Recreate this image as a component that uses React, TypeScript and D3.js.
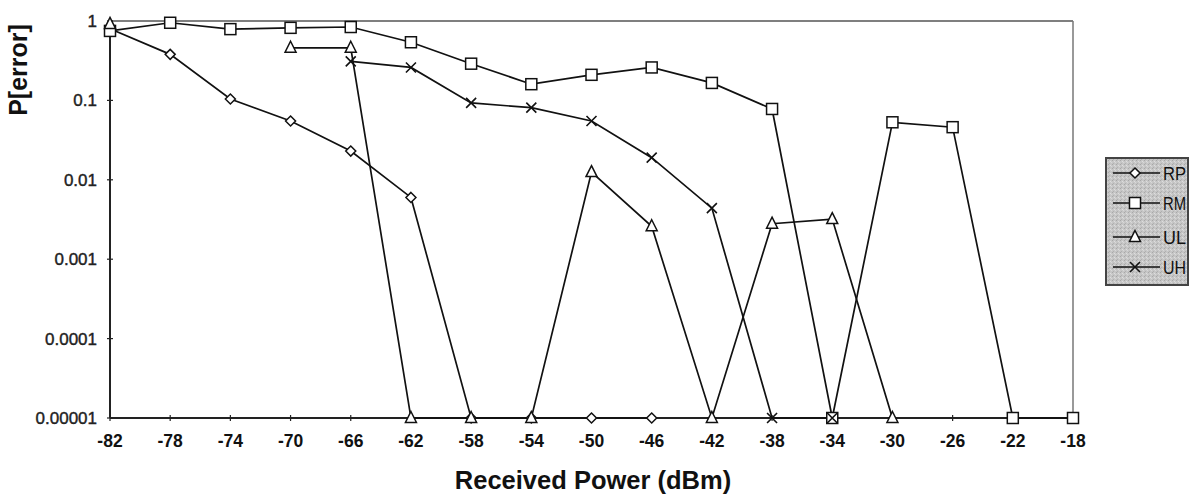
import React from "react";
import * as d3 from "d3";

const xValues = [-82, -78, -74, -70, -66, -62, -58, -54, -50, -46, -42, -38, -34, -30, -26, -22, -18];
const yTicks = [1, 0.1, 0.01, 0.001, 0.0001, 0.00001];
const yTickLabels = ["1", "0.1", "0.01", "0.001", "0.0001", "0.00001"];

const rpValues = [0.8, 0.38, 0.104, 0.055, 0.023, 0.006, 1e-5, 1e-5, 1e-5, 1e-5, null, null, null, null, null, null, null];
const rmValues = [0.75, 0.95, 0.79, 0.82, 0.84, 0.54, 0.29, 0.16, 0.21, 0.26, 0.166, 0.078, 1e-5, 0.053, 0.046, 1e-5, 1e-5];
const ulValues = [0.92, null, null, 0.46, 0.46, 1e-5, 1e-5, 1e-5, 0.0125, 0.0026, 1e-5, 0.0028, 0.0032, 1e-5, null, null, null];
const uhValues = [null, null, null, null, 0.31, 0.26, 0.093, 0.081, 0.055, 0.019, 0.0044, 1e-5, 1e-5, null, null, null, null];

const seriesNames = ["RP", "RM", "UL", "UH"];
const seriesData = [rpValues, rmValues, ulValues, uhValues];
const seriesMarkers = ["diamond", "square", "triangle", "cross"];

const FONT = "'Liberation Sans', Arial, sans-serif";

function Marker({ type, x, y }: { type: string; x: number; y: number }) {
  const st = { fill: "#fff", stroke: "#111", strokeWidth: 1.5 };
  if (type === "square") return <rect x={x - 5.5} y={y - 5.5} width={11} height={11} {...st} />;
  if (type === "diamond") return <path d={`M${x},${y - 5}L${x + 5},${y}L${x},${y + 5}L${x - 5},${y}Z`} {...st} />;
  if (type === "triangle") return <path d={`M${x},${y - 6.5}L${x + 5.5},${y + 4.5}L${x - 5.5},${y + 4.5}Z`} {...st} />;
  return <path d={`M${x - 5},${y - 5}L${x + 5},${y + 5}M${x - 5},${y + 5}L${x + 5},${y - 5}`} fill="none" stroke="#111" strokeWidth={1.6} />;
}

export default function App() {
  const left = 110, right = 1073, top = 21, bottom = 418;
  const x = d3.scaleLinear().domain([-82, -18]).range([left, right]);
  const y = d3.scaleLog().domain([1e-5, 1]).range([bottom, top]);
  const line = d3
    .line<number | null>()
    .defined((d) => d != null)
    .x((_, i) => x(xValues[i]))
    .y((d) => y(d as number));

  const legendX = 1106, legendY = 158, legendW = 82, legendH = 127;
  const legendRows = [173, 203, 237, 267];

  return (
    <svg width={1200} height={496} style={{ position: "absolute", left: 0, top: 0, background: "#fff" }} fontFamily={FONT}>
      <defs>
        <pattern id="noise" width="4" height="4" patternUnits="userSpaceOnUse">
          <rect width="4" height="4" fill="#c6c6c6" />
          <rect x="0" y="0" width="1" height="1" fill="#a8a8a8" />
          <rect x="2" y="1" width="1" height="1" fill="#dedede" />
          <rect x="1" y="3" width="1" height="1" fill="#b0b0b0" />
          <rect x="3" y="2" width="1" height="1" fill="#d8d8d8" />
        </pattern>
      </defs>
      {/* frame */}
      <line x1={left} x2={right} y1={top} y2={top} stroke="#555" strokeWidth={1.5} />
      <line x1={right} x2={right} y1={top} y2={bottom} stroke="#777" strokeWidth={1.5} />
      <line x1={left} x2={left} y1={top} y2={bottom} stroke="#222" strokeWidth={2} />
      <line x1={left} x2={right} y1={bottom} y2={bottom} stroke="#222" strokeWidth={2} />
      {/* y ticks */}
      {yTicks.map((t, i) => (
        <g key={"y" + i}>
          <line x1={left - 3} x2={left + 3} y1={y(t)} y2={y(t)} stroke="#222" strokeWidth={1.2} />
          <text x={97} y={y(t)} dy="0.35em" textAnchor="end" fontSize={17} fill="#222" stroke="#222" strokeWidth={0.4}>
            {yTickLabels[i]}
          </text>
        </g>
      ))}
      {/* x ticks */}
      {xValues.map((v) => (
        <g key={"x" + v}>
          <line x1={x(v)} x2={x(v)} y1={bottom - 3} y2={bottom + 3} stroke="#222" strokeWidth={1.2} />
          <text x={x(v)} y={441} dy="0.35em" textAnchor="middle" fontSize={17.5} fontWeight="bold" fill="#111">
            {v}
          </text>
        </g>
      ))}
      {/* axis titles */}
      <text x={593} y={489} textAnchor="middle" fontSize={25.5} fontWeight="bold" fill="#111">
        Received Power (dBm)
      </text>
      <text transform="translate(27,70) rotate(-90)" textAnchor="middle" fontSize={25} fontWeight="bold" fill="#111">
        P[error]
      </text>
      {/* lines */}
      {seriesData.map((s, i) => (
        <path key={"l" + i} d={line(s) || ""} fill="none" stroke="#111" strokeWidth={1.7} />
      ))}
      {/* markers */}
      {seriesData.map((s, i) =>
        s.map((v, j) => (v == null ? null : <Marker key={`m${i}-${j}`} type={seriesMarkers[i]} x={x(xValues[j])} y={y(v)} />))
      )}
      {/* legend */}
      <rect x={legendX} y={legendY} width={legendW} height={legendH} fill="url(#noise)" stroke="#444" strokeWidth={2} />
      {seriesNames.map((n, i) => (
        <g key={"lg" + i}>
          <line x1={1113} x2={1160} y1={legendRows[i]} y2={legendRows[i]} stroke="#111" strokeWidth={1.5} />
          <Marker type={seriesMarkers[i]} x={1135} y={legendRows[i]} />
          <text x={1163} y={legendRows[i]} dy="0.35em" fontSize={19} fill="#111" textLength={n.length * 11.5} lengthAdjust="spacingAndGlyphs">
            {n}
          </text>
        </g>
      ))}
    </svg>
  );
}
